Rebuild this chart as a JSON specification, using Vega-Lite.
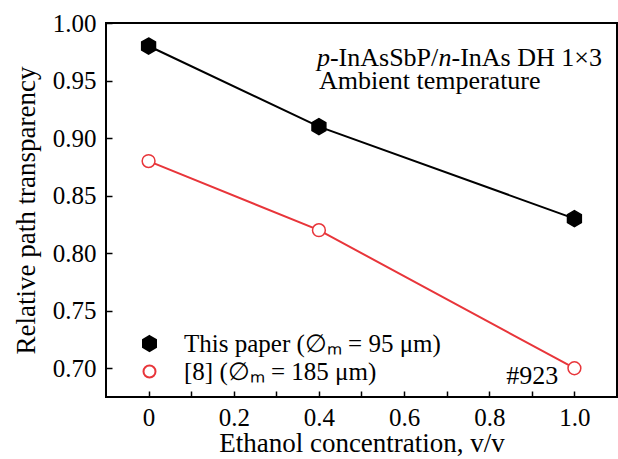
{
  "$schema": "https://vega.github.io/schema/vega-lite/v6.json",
  "width": 511,
  "height": 374,
  "autosize": {"type": "none"},
  "padding": {"left": 106, "top": 23, "right": 1, "bottom": 62},
  "background": "white",
  "config": {
    "font": "Liberation Serif",
    "view": {"stroke": "black", "strokeWidth": 2},
    "axis": {"grid": false, "domain": false, "ticks": true, "tickColor": "black", "tickWidth": 1.5, "labelColor": "black", "titleColor": "black", "titleFontWeight": "normal", "labelFont": "Liberation Serif", "titleFont": "Liberation Serif", "labelFontSize": 25, "titleFontSize": 27, "labelOverlap": false, "labelFlush": false}
  },
  "datasets": {
    "points": [
      {"conc": 0.0, "trans": 0.98, "series": "This paper (∅ₘ = 95 μm)"},
      {"conc": 0.4, "trans": 0.91, "series": "This paper (∅ₘ = 95 μm)"},
      {"conc": 1.0, "trans": 0.83, "series": "This paper (∅ₘ = 95 μm)"},
      {"conc": 0.0, "trans": 0.88, "series": "[8] (∅ₘ = 185 μm)"},
      {"conc": 0.4, "trans": 0.82, "series": "[8] (∅ₘ = 185 μm)"},
      {"conc": 1.0, "trans": 0.70, "series": "[8] (∅ₘ = 185 μm)"}
    ],
    "normal": [
      {"conc": 0.4259, "trans": 0.9628, "text": "-InAsSbP/"},
      {"conc": 0.7113, "trans": 0.9628, "text": "-InAs DH 1×3"},
      {"conc": 0.40, "trans": 0.9423, "text": "Ambient temperature"},
      {"conc": 0.84, "trans": 0.686, "text": "#923"}
    ],
    "italic": [
      {"conc": 0.3953, "trans": 0.9628, "text": "p"},
      {"conc": 0.6807, "trans": 0.9628, "text": "n"}
    ]
  },
  "layer": [
    {
      "data": {"name": "points"},
      "encoding": {
        "x": {"field": "conc", "type": "quantitative", "scale": {"domain": [-0.1, 1.1], "nice": false, "zero": false},
          "axis": {"orient": "bottom", "values": [0, 0.1, 0.2, 0.3, 0.4, 0.5, 0.6, 0.7, 0.8, 0.9, 1.0], "ticks": true, "tickSize": 6, "offset": -6,
            "labelExpr": "datum.value == 0 ? '0' : (round(datum.value * 10) % 2 == 0 ? format(datum.value, '.1f') : '')",
            "labelFont": "Liberation Serif", "labelFontSize": 25, "labelColor": "black", "labelPadding": 8,
            "title": "Ethanol concentration, v/v", "titleFont": "Liberation Serif", "titleFontSize": 27, "titlePadding": 0}},
        "y": {"field": "trans", "type": "quantitative", "scale": {"domain": [0.675, 1.0], "nice": false, "zero": false},
          "axis": {"orient": "left", "values": [0.7, 0.725, 0.75, 0.775, 0.8, 0.825, 0.85, 0.875, 0.9, 0.925, 0.95, 0.975, 1.0], "ticks": true, "tickSize": 6, "offset": -6,
            "labelExpr": "round(datum.value * 1000) % 50 == 0 ? format(datum.value, '.2f') : ''",
            "labelFont": "Liberation Serif", "labelFontSize": 25, "labelColor": "black", "labelPadding": 10,
            "title": "Relative path transparency", "titleFont": "Liberation Serif", "titleFontSize": 27, "titlePadding": 12}}
      },
      "layer": [
        {
          "mark": {"type": "line", "strokeWidth": 2},
          "encoding": {
            "stroke": {"field": "series", "type": "nominal",
              "scale": {"domain": ["This paper (∅ₘ = 95 μm)", "[8] (∅ₘ = 185 μm)"], "range": ["black", "#e8353a"]},
              "legend": {"orient": "none", "legendX": 31, "legendY": 308, "title": null, "labelFont": "Liberation Serif", "labelFontSize": 25, "labelColor": "black", "labelLimit": 0, "symbolSize": 225, "symbolStrokeWidth": 2, "labelOffset": 22, "rowPadding": 2}}
          }
        },
        {
          "mark": {"type": "point", "size": 256, "strokeWidth": 1.5, "opacity": 1},
          "encoding": {
            "stroke": {"field": "series", "type": "nominal", "legend": null},
            "fill": {"field": "series", "type": "nominal", "legend": null,
              "scale": {"domain": ["This paper (∅ₘ = 95 μm)", "[8] (∅ₘ = 185 μm)"], "range": ["black", "white"]}},
            "shape": {"field": "series", "type": "nominal", "legend": null,
              "scale": {"domain": ["This paper (∅ₘ = 95 μm)", "[8] (∅ₘ = 185 μm)"], "range": ["M0,-1L0.866,-0.5L0.866,0.5L0,1L-0.866,0.5L-0.866,-0.5Z", "M0.8,0A0.8,0.8,0,1,1,-0.8,0A0.8,0.8,0,1,1,0.8,0Z"]}}
          }
        }
      ]
    },
    {
      "encoding": {
        "x": {"field": "conc", "type": "quantitative"},
        "y": {"field": "trans", "type": "quantitative"},
        "text": {"field": "text", "type": "nominal"}
      },
      "layer": [
        {"data": {"name": "normal"}, "mark": {"type": "text", "align": "left", "baseline": "alphabetic", "fontSize": 26, "color": "black", "font": "Liberation Serif"}},
        {"data": {"name": "italic"}, "mark": {"type": "text", "align": "left", "baseline": "alphabetic", "fontSize": 26, "fontStyle": "italic", "color": "black", "font": "Liberation Serif"}}
      ]
    }
  ]
}
